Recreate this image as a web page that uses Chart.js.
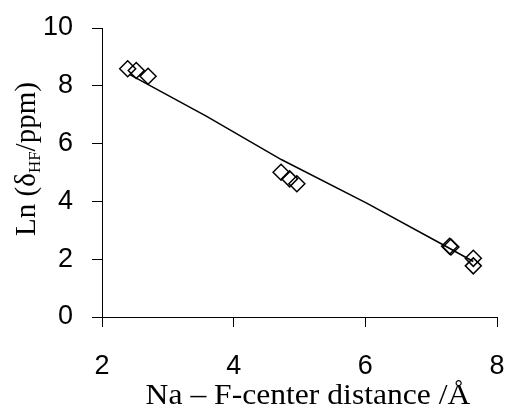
<!DOCTYPE html>
<html>
<head>
<meta charset="utf-8">
<script src="https://cdn.jsdelivr.net/npm/chart.js@4/dist/chart.umd.min.js"></script>
<style>
  html, body { margin: 0; padding: 0; background: #fff; }
  canvas { display: block; }
</style>
</head>
<body>
<canvas id="chart" width="508" height="419"></canvas>
<script>
// measured points: Na to F-center distance (Å) vs ln of hyperfine shift
const distance = [2.39, 2.52, 2.70, 4.72, 4.85, 4.96, 7.28, 7.30, 7.64, 7.64];
const lnShift = [8.59, 8.53, 8.33, 5.01, 4.78, 4.61, 2.45, 2.42, 2.03, 1.77];

// trend line through the data
const fitX = [2.43, 3.59, 4.73, 6.02, 7.18, 7.64];
const fitY = [8.38, 6.94, 5.44, 3.94, 2.50, 1.92];

const xTicks = [2, 4, 6, 8];
const yTicks = [0, 2, 4, 6, 8, 10];

const serif = "'Liberation Serif', 'Times New Roman', serif";
const sans = "'Liberation Sans', Arial, sans-serif";

// axis titles drawn by hand so the subscript can be set
const titles = {
  id: "titles",
  afterDraw(chart) {
    const ctx = chart.ctx;
    ctx.save();
    ctx.fillStyle = "#000";
    ctx.textBaseline = "alphabetic";

    ctx.save();
    ctx.font = `29px ${serif}`;
    ctx.textAlign = "center";
    ctx.translate(308, 404);
    ctx.scale(1.09, 1);
    ctx.fillText("Na \u2013 F-center distance /\u00c5", 0, 0);
    ctx.restore();

    // y title, rotated, with subscript HF
    const parts = [
      { t: "Ln (\u03b4", size: 29, dy: 0 },
      { t: "HF", size: 17, dy: 5 },
      { t: "/ppm)", size: 29, dy: 0 },
    ];
    let total = 0;
    parts.forEach((p) => {
      ctx.font = `${p.size}px ${serif}`;
      p.w = ctx.measureText(p.t).width;
      total += p.w;
    });
    ctx.translate(35, 159);
    ctx.rotate(-Math.PI / 2);
    ctx.textAlign = "left";
    let x = -total / 2;
    parts.forEach((p) => {
      ctx.font = `${p.size}px ${serif}`;
      ctx.fillText(p.t, x, p.dy);
      x += p.w;
    });
    ctx.restore();
  },
};

// keep label overflow from shrinking the plot area
function noPadding(scale) {
  scale.paddingTop = 0;
  scale.paddingBottom = 0;
  scale.paddingLeft = 0;
  scale.paddingRight = 0;
}

new Chart(document.getElementById("chart"), {
  type: "scatter",
  data: {
    datasets: [
      {
        label: "fit",
        data: fitX.map((x, i) => ({ x, y: fitY[i] })),
        showLine: true,
        borderColor: "#000",
        borderWidth: 1.5,
        pointRadius: 0,
        tension: 0,
      },
      {
        label: "data",
        data: distance.map((x, i) => ({ x, y: lnShift[i] })),
        pointStyle: "rectRot",
        pointRadius: 8,
        pointBorderWidth: 1.5,
        pointBorderColor: "#000",
        pointBackgroundColor: "rgba(0,0,0,0)",
        showLine: false,
      },
    ],
  },
  options: {
    responsive: false,
    animation: false,
    devicePixelRatio: 1,
    layout: { padding: { top: 28, right: 11, left: 0, bottom: 0 } },
    plugins: { legend: { display: false }, tooltip: { enabled: false } },
    scales: {
      x: {
        type: "linear",
        min: 2,
        max: 8,
        afterBuildTicks: (scale) => {
          scale.ticks = xTicks.map((v) => ({ value: v }));
        },
        afterFit: (scale) => {
          scale.height = 102;
          noPadding(scale);
        },
        ticks: { color: "#000", font: { family: sans, size: 27 }, padding: 23, maxRotation: 0 },
        grid: { display: true, drawOnChartArea: false, drawTicks: true, tickLength: 10, color: "#000", lineWidth: 1 },
        border: { display: true, color: "#000", width: 1 },
      },
      y: {
        type: "linear",
        min: 0,
        max: 10,
        afterBuildTicks: (scale) => {
          scale.ticks = yTicks.map((v) => ({ value: v }));
        },
        afterFit: (scale) => {
          scale.width = 102;
          noPadding(scale);
        },
        ticks: { color: "#000", font: { family: sans, size: 27 }, padding: 19 },
        grid: { display: true, drawOnChartArea: false, drawTicks: true, tickLength: 10, color: "#000", lineWidth: 1 },
        border: { display: true, color: "#000", width: 1 },
      },
    },
  },
  plugins: [titles],
});
</script>
</body>
</html>
